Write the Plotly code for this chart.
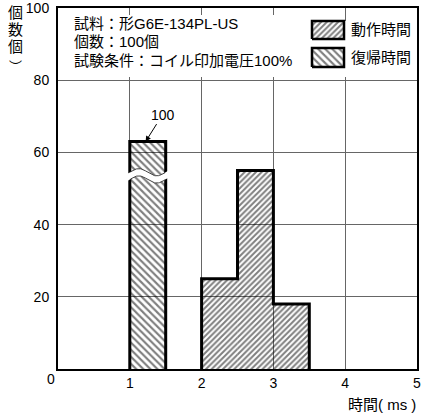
import numpy as np
import plotly.graph_objects as go

# ---- data ----------------------------------------------------------------
BIN_W = 0.5                                # ms per histogram bin
operate_left = [2.0, 2.5, 3.0]             # 動作時間 bins (ms, left edges)
operate_counts = [25, 55, 18]
release_left = [1.0]                       # 復帰時間 bins
release_counts = [100]
x_ticks = [1, 2, 3, 4, 5]
y_ticks = [20, 40, 60, 80, 100]

# ---- geometry helpers (plot area in page pixels) -------------------------
W, H = 422, 419
PL, PR, PT, PB = 58, 417, 8, 369
XR, YR = (0, 5), (0, 100)
BROKEN_TOP = 63          # drawn height of a bar that runs off the axis
BREAK_AT = 53.5          # where the break symbol sits on a broken bar


def dx(px):
    return XR[0] + (px - PL) / (PR - PL) * (XR[1] - XR[0])


def dy(py):
    return YR[0] + (PB - py) / (PB - PT) * (YR[1] - YR[0])


def fx(px):
    return (px - PL) / (PR - PL)


def fy(py):
    return (PB - py) / (PB - PT)


FONT = "Liberation Sans, Arial, Noto Sans CJK JP, sans-serif"

OPERATE_HATCH = dict(shape="/", size=4, solidity=0.5, fgcolor="black")
RELEASE_HATCH = dict(shape="\\", size=5, solidity=0.42, fgcolor="black")


def outline(lefts, heights):
    xs, ys = [lefts[0]], [0]
    for l, h in zip(lefts, heights):
        xs += [l, l + BIN_W]
        ys += [h, h]
    xs.append(lefts[-1] + BIN_W)
    ys.append(0)
    return xs, ys


def rect_xy(x0, x1, y0, y1):
    return [x0, x1, x1, x0, x0], [y0, y0, y1, y1, y0]


fig = go.Figure()

# white panels behind the note block and the key (hide the grid there)
for (a, b, t, bt) in ((60, 300, 15, 77), (300, 415, 21, 77)):
    px_, py_ = rect_xy(dx(a), dx(b), dy(bt), dy(t))
    fig.add_trace(go.Scatter(x=px_, y=py_, fill="toself", fillcolor="white",
                             mode="lines", line=dict(width=0), hoverinfo="skip"))

release_shown = [min(v, BROKEN_TOP) for v in release_counts]

# hatched bars
transparent = "rgba(255,255,255,0)"
fig.add_trace(go.Bar(
    x=[l + BIN_W / 2 for l in operate_left], y=operate_counts, width=BIN_W,
    marker=dict(color=transparent, line=dict(width=0),
                pattern=dict(bgcolor=transparent, **OPERATE_HATCH)),
    hoverinfo="skip"))
fig.add_trace(go.Bar(
    x=[l + BIN_W / 2 for l in release_left], y=release_shown, width=BIN_W,
    marker=dict(color=transparent, line=dict(width=0),
                pattern=dict(bgcolor=transparent, **RELEASE_HATCH)),
    hoverinfo="skip"))

# heavy outlines around each histogram
for lefts, heights in ((operate_left, operate_counts), (release_left, release_shown)):
    ox, oy = outline(lefts, heights)
    fig.add_trace(go.Scatter(x=ox, y=oy, mode="lines",
                             line=dict(color="black", width=3),
                             hoverinfo="skip", cliponaxis=False))

# break symbol on the truncated bar
for l, v in zip(release_left, release_counts):
    if v > BROKEN_TOP:
        xs = np.linspace(l - 0.04, l + BIN_W + 0.04, 60)
        wave = 1.0 * np.sin(2 * np.pi * (xs - l) / BIN_W)
        top = BREAK_AT + 1.0 + wave
        bot = BREAK_AT - 1.0 + wave
        fig.add_trace(go.Scatter(
            x=np.concatenate([xs, xs[::-1]]), y=np.concatenate([top, bot[::-1]]),
            fill="toself", fillcolor="white", mode="lines",
            line=dict(width=0), hoverinfo="skip"))
        inner = (xs >= l) & (xs <= l + BIN_W)
        for curve in (top, bot):
            fig.add_trace(go.Scatter(x=xs[inner], y=curve[inner], mode="lines",
                                     line=dict(color="#444", width=1),
                                     hoverinfo="skip"))
        fig.add_annotation(x=l + 0.22, y=BROKEN_TOP, xref="x", yref="y",
                           text=str(v), showarrow=True, arrowhead=2,
                           arrowsize=1.1, arrowwidth=1, arrowcolor="black",
                           ax=17, ay=-27, font=dict(size=14, family=FONT))

# key swatches
key = [("動作時間", OPERATE_HATCH, 21, 39), ("復帰時間", RELEASE_HATCH, 48, 67)]
for label, hatch, t, b in key:
    sx, sy = rect_xy(dx(312), dx(344), dy(b), dy(t))
    fig.add_trace(go.Scatter(
        x=sx, y=sy, fill="toself", fillcolor="white", mode="lines",
        fillpattern=dict(bgcolor="white", **hatch),
        line=dict(color="black", width=2.5), hoverinfo="skip"))
    fig.add_annotation(xref="paper", yref="paper", x=fx(349), y=fy((t + b) / 2),
                       xanchor="left", yanchor="middle", showarrow=False,
                       text=label, font=dict(size=15, family=FONT))

# note block
notes = ["試料：形G6E-134PL-US", "個数：100個", "試験条件：コイル印加電圧100%"]
for i, line in enumerate(notes):
    fig.add_annotation(xref="paper", yref="paper", x=fx(72), y=fy(23 + 18.7 * i),
                       xanchor="left", yanchor="middle", showarrow=False,
                       text=line, font=dict(size=15, family=FONT))

# vertical y-axis title
for ch, cy, size in (("個", 13, 15), ("数", 29, 15), ("個", 46, 15), ("︶", 66, 13)):
    fig.add_annotation(xref="paper", yref="paper", x=fx(15), y=fy(cy),
                       xanchor="center", yanchor="middle", showarrow=False,
                       text=ch, font=dict(size=size, family=FONT))

# origin label and x-axis title
fig.add_annotation(xref="paper", yref="paper", x=fx(51), y=fy(379),
                   xanchor="center", yanchor="middle", showarrow=False,
                   text="0", font=dict(size=14, family=FONT))
fig.add_annotation(xref="paper", yref="paper", x=fx(418), y=fy(404),
                   xanchor="right", yanchor="middle", showarrow=False,
                   text="時間( ms )", font=dict(size=15, family=FONT))

axis_style = dict(showgrid=True, gridcolor="#666", gridwidth=1,
                  showline=True, linecolor="black", linewidth=2, mirror=True,
                  ticks="", zeroline=False, fixedrange=True, automargin=False,
                  ticklabeloverflow="allow",
                  tickfont=dict(size=14, family=FONT, color="black"))
fig.update_xaxes(range=list(XR), tickvals=x_ticks, **axis_style)
fig.update_yaxes(range=list(YR), tickvals=y_ticks, ticklabelstandoff=4, **axis_style)

fig.update_layout(width=W, height=H, margin=dict(l=PL, r=W - PR, t=PT, b=H - PB),
                  plot_bgcolor="white", paper_bgcolor="white", showlegend=False,
                  barmode="overlay", font=dict(family=FONT, color="black"))

fig.write_html("out.html")
